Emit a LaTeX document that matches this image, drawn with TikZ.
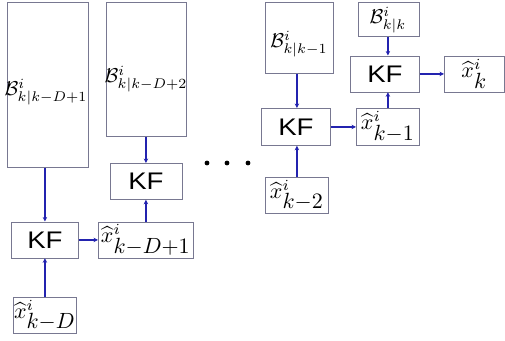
\documentclass[tikz,border=0pt]{standalone}
\usepackage{graphicx}
\usepackage{amsmath}
\usepackage{fontspec}
\usetikzlibrary{arrows.meta}
\newfontfamily\kffont[FakeStretch=1.15]{Liberation Sans}
\definecolor{boxgray}{RGB}{120,120,145}
\definecolor{arrblue}{RGB}{35,35,175}
\newcommand{\blab}[1]{\scalebox{2}{$#1$}}
\newcommand{\xlab}[1]{\scalebox{2.2}{$\widehat{x}^{i}_{\textstyle #1}$}}
\begin{document}
\begin{tikzpicture}[x=1pt,y=-1pt,
  box/.style={draw=boxgray, line width=0.8pt, inner sep=0pt, anchor=north west},
  kfbox/.style={box, font=\kffont\fontsize{24}{28}\selectfont},
  xbox/.style={box},
  btext/.style={inner sep=0pt},
  arr/.style={draw=arrblue, line width=1.4pt, -{Stealth[length=4.5pt,width=4.5pt]}}]
\useasboundingbox (0,0) rectangle (505,340);
% left column
\node[box, minimum width=81pt, minimum height=165pt] (B1) at (7,2) {};
\node[btext] (B1t) at (46,92) {\blab{\mathcal{B}^{i}_{k|k-D+1}}};
\node[kfbox, minimum width=67pt, minimum height=36pt] (KF1) at (11,221.5) {KF};
\node[xbox, minimum width=63pt, minimum height=36pt] (X0) at (13,297) {\xlab{k{-}D}};
% second column
\node[box, minimum width=80pt, minimum height=134pt] (B2) at (106,2) {};
\node[btext] (B2t) at (146,79) {\blab{\mathcal{B}^{i}_{k|k-D+2}}};
\node[kfbox, minimum width=72pt, minimum height=36pt] (KF2) at (109.5,163) {KF};
\node[xbox, minimum width=95pt, minimum height=36pt] (X1) at (98,221.5) {\xlab{k{-}D{+}1}};
% dots
\fill (207,163) circle (2.4pt) (227,163) circle (2.4pt) (248,163) circle (2.4pt);
% third column
\node[box, minimum width=68pt, minimum height=71pt] (B3) at (265,2) {};
\node[btext] (B3t) at (299,44) {\blab{\mathcal{B}^{i}_{k|k-1}}};
\node[kfbox, minimum width=69pt, minimum height=37pt] (KF3) at (261,108) {KF};
\node[xbox, minimum width=63pt, minimum height=36pt] (Xk2) at (265,177) {\xlab{k{-}2}};
% fourth column
\node[box, minimum width=61pt, minimum height=34pt] (B4) at (357.5,2) {};
\node[btext] (B4t) at (388,20) {\blab{\mathcal{B}^{i}_{k|k}}};
\node[kfbox, minimum width=69pt, minimum height=36pt] (KF4) at (350,55.5) {KF};
\node[xbox, minimum width=63pt, minimum height=37pt] (Xk1) at (356,108) {\xlab{k{-}1}};
\node[xbox, minimum width=60pt, minimum height=36pt] (Xk) at (444,55.5) {\xlab{k}};
% arrows
\draw[arr] (X0.north |- B1.south) -- (X0.north |- KF1.north);
\draw[arr] (X0.north) -- (KF1.south -| X0.north);
\draw[arr] (KF1.east) -- (X1.west |- KF1.east);
\draw[arr] (X1.north) -- (KF2.south -| X1.north);
\draw[arr] (X1.north |- B2.south) -- (X1.north |- KF2.north);
\draw[arr] (Xk2.north |- B3.south) -- (Xk2.north |- KF3.north);
\draw[arr] (Xk2.north) -- (Xk2.north |- KF3.south);
\draw[arr] (KF3.east) -- (Xk1.west |- KF3.east);
\draw[arr] (Xk1.north) -- (Xk1.north |- KF4.south);
\draw[arr] (Xk1.north |- B4.south) -- (Xk1.north |- KF4.north);
\draw[arr] (KF4.east) -- (Xk.west |- KF4.east);
\end{tikzpicture}
\end{document}
